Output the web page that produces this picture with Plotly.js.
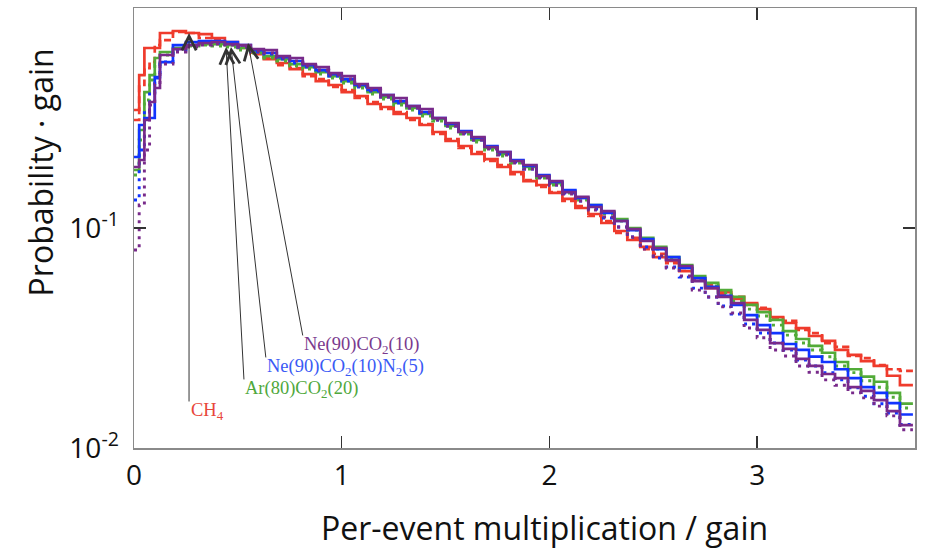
<!DOCTYPE html>
<html><head><meta charset="utf-8">
<script src="https://cdn.plot.ly/plotly-3.0.1.min.js"></script>
<style>html,body{margin:0;padding:0;background:#fff}#chart{width:925px;height:551px}</style>
</head><body><div id="chart"></div>
<script>
// Histogram bin edges (per-event multiplication / gain)
const binEdges = [0,0.025,0.05,0.075,0.1,0.125,0.1875,0.25,0.3125,0.375,0.4375,0.5,0.5625,0.625,0.6875,0.75,0.8125,0.875,0.9375,1,1.0625,1.125,1.1875,1.25,1.3125,1.375,1.4375,1.5,1.5625,1.625,1.6875,1.75,1.8125,1.875,1.9375,2,2.0625,2.125,2.1875,2.25,2.3125,2.375,2.4375,2.5,2.5625,2.625,2.6875,2.75,2.8125,2.875,2.9375,3,3.0625,3.125,3.1875,3.25,3.3125,3.375,3.4375,3.5,3.5625,3.625,3.6875,3.75];

// Probability · gain per bin
const ch4Solid = [0.3438,0.4958,0.6578,0.6578,0.6578,0.7696,0.7860,0.7696,0.7615,0.7304,0.7004,0.6578,0.6308,0.5862,0.5622,0.5279,0.5010,0.4656,0.4467,0.4150,0.3980,0.3661,0.3548,0.3297,0.3163,0.2939,0.2731,0.2486,0.2359,0.2170,0.2058,0.1894,0.1797,0.1635,0.1568,0.1443,0.1355,0.1233,0.1158,0.1054,0.0969,0.0882,0.0820,0.0738,0.0708,0.0637,0.0592,0.0533,0.0511,0.0476,0.0456,0.0428,0.0394,0.0370,0.0351,0.0323,0.0307,0.0279,0.0265,0.0248,0.0236,0.0213,0.0193];
const ch4Dashed = [0.3097,0.4467,0.5335,0.5681,0.6787,0.7152,0.7779,0.7696,0.7304,0.7152,0.6858,0.6716,0.6177,0.5986,0.5505,0.5335,0.4906,0.4754,0.4375,0.4238,0.3898,0.3738,0.3474,0.3367,0.3097,0.2970,0.2675,0.2538,0.2310,0.2215,0.2016,0.1934,0.1759,0.1652,0.1536,0.1457,0.1327,0.1259,0.1134,0.1076,0.0949,0.0901,0.0802,0.0762,0.0693,0.0658,0.0580,0.0551,0.0501,0.0486,0.0447,0.0433,0.0390,0.0378,0.0344,0.0333,0.0300,0.0288,0.0262,0.0256,0.0238,0.0228,0.0224];
const arSolid = [0.1835,0.2789,0.4150,0.4958,0.5924,0.6308,0.6578,0.6787,0.6858,0.6858,0.6787,0.6578,0.6308,0.6049,0.5862,0.5563,0.5391,0.5116,0.4906,0.4656,0.4421,0.4150,0.3939,0.3700,0.3511,0.3297,0.3130,0.2908,0.2731,0.2512,0.2310,0.2170,0.2016,0.1894,0.1723,0.1601,0.1473,0.1369,0.1272,0.1182,0.1098,0.1000,0.0901,0.0820,0.0738,0.0679,0.0605,0.0563,0.0522,0.0486,0.0447,0.0415,0.0382,0.0340,0.0313,0.0291,0.0271,0.0246,0.0228,0.0211,0.0200,0.0178,0.0159];
const arDotted = [0.1741,0.2512,0.3817,0.4705,0.5505,0.6113,0.6509,0.6716,0.6787,0.6716,0.6647,0.6441,0.6243,0.5924,0.5741,0.5448,0.5279,0.5010,0.4805,0.4562,0.4328,0.4064,0.3857,0.3623,0.3438,0.3229,0.3065,0.2848,0.2675,0.2460,0.2262,0.2125,0.1975,0.1854,0.1687,0.1568,0.1443,0.1341,0.1246,0.1158,0.1076,0.0979,0.0882,0.0802,0.0723,0.0665,0.0592,0.0545,0.0507,0.0466,0.0428,0.0398,0.0362,0.0326,0.0300,0.0279,0.0260,0.0236,0.0220,0.0202,0.0189,0.0170,0.0152];
const neN2Solid = [0.2103,0.2939,0.3163,0.3163,0.4855,0.5681,0.6787,0.7004,0.7078,0.7078,0.7004,0.6787,0.6441,0.6243,0.5986,0.5741,0.5505,0.5224,0.5010,0.4754,0.4467,0.4238,0.4022,0.3777,0.3585,0.3367,0.3163,0.2970,0.2760,0.2565,0.2359,0.2215,0.2037,0.1914,0.1741,0.1618,0.1488,0.1369,0.1272,0.1170,0.1076,0.0979,0.0891,0.0802,0.0738,0.0658,0.0592,0.0540,0.0491,0.0447,0.0402,0.0362,0.0333,0.0297,0.0279,0.0260,0.0246,0.0228,0.0208,0.0189,0.0178,0.0160,0.0142];
const neN2Dotted = [0.1341,0.2262,0.3438,0.4150,0.4805,0.5681,0.6441,0.6787,0.6931,0.6931,0.6858,0.6647,0.6308,0.6177,0.5862,0.5622,0.5391,0.5170,0.4906,0.4656,0.4375,0.4194,0.3939,0.3700,0.3511,0.3332,0.3097,0.2908,0.2703,0.2512,0.2310,0.2170,0.1995,0.1854,0.1705,0.1568,0.1443,0.1327,0.1220,0.1110,0.1011,0.0910,0.0820,0.0730,0.0665,0.0598,0.0533,0.0486,0.0442,0.0406,0.0366,0.0333,0.0300,0.0279,0.0251,0.0236,0.0220,0.0204,0.0188,0.0172,0.0159,0.0144,0.0128];
const neSolid = [0.1894,0.2037,0.3097,0.3738,0.4328,0.6113,0.6509,0.6787,0.6931,0.7004,0.6858,0.6787,0.6509,0.6441,0.6049,0.5924,0.5563,0.5391,0.5063,0.4906,0.4514,0.4328,0.4022,0.3898,0.3585,0.3474,0.3163,0.3001,0.2731,0.2592,0.2335,0.2215,0.2016,0.1934,0.1723,0.1635,0.1457,0.1384,0.1246,0.1194,0.1076,0.0989,0.0873,0.0811,0.0715,0.0672,0.0574,0.0533,0.0486,0.0456,0.0382,0.0344,0.0300,0.0282,0.0254,0.0236,0.0217,0.0208,0.0189,0.0182,0.0165,0.0147,0.0127];
const neDotted = [0.0794,0.1272,0.2262,0.3623,0.4514,0.5563,0.6308,0.6647,0.6787,0.6858,0.6787,0.6647,0.6374,0.6243,0.5924,0.5741,0.5448,0.5224,0.4958,0.4754,0.4421,0.4238,0.3939,0.3777,0.3511,0.3367,0.3097,0.2908,0.2675,0.2512,0.2286,0.2147,0.1975,0.1854,0.1687,0.1568,0.1428,0.1327,0.1207,0.1122,0.1011,0.0910,0.0802,0.0746,0.0658,0.0605,0.0522,0.0486,0.0438,0.0411,0.0351,0.0317,0.0279,0.0262,0.0236,0.0221,0.0204,0.0193,0.0178,0.0169,0.0155,0.0140,0.0121];

const xTickVals = [0, 1, 2, 3];
const yTickVals = [0.01, 0.1];
const yTickText = ['10<sup>-2</sup>', '10<sup>-1</sup>'];

const gasLabels = ['CH<sub>4</sub>', 'Ar(80)CO<sub>2</sub>(20)', 'Ne(90)CO<sub>2</sub>(10)N<sub>2</sub>(5)', 'Ne(90)CO<sub>2</sub>(10)'];

const RED = '#ef3b2c', GREEN = '#52ab38', BLUE = '#1034ff', PURPLE = '#782a8a';
const UI_FONT = 'Open Sans, Lato, sans-serif';

function closeStep(v) { return v.concat([v[v.length - 1]]); }
function stepTrace(vals, color, dash, width) {
  return { x: binEdges, y: closeStep(vals), type: 'scatter', mode: 'lines',
    line: { shape: 'hv', color: color, width: width, dash: dash }, hoverinfo: 'skip' };
}

const traces = [
  stepTrace(ch4Solid, RED, 'solid', 2.7),
  stepTrace(ch4Dashed, RED, '7px,4px', 2.7),
  stepTrace(arSolid, GREEN, 'solid', 2.7),
  stepTrace(arDotted, GREEN, '3px,5px', 2.9),
  stepTrace(neN2Solid, BLUE, 'solid', 2.7),
  stepTrace(neN2Dotted, BLUE, '3px,5px', 2.9),
  stepTrace(neSolid, PURPLE, 'solid', 2.7),
  stepTrace(neDotted, PURPLE, '3px,5px', 2.9)
];

const arrowColor = '#333333';
const arrowBase = { xref: 'x', yref: 'y', text: '', showarrow: true, arrowhead: 5, arrowsize: 2.8, arrowwidth: 1, arrowcolor: arrowColor };
const labelFont = (c) => ({ family: 'Liberation Serif, DejaVu Serif, serif', size: 18.5, color: c });
const labelBase = { xref: 'x', yref: 'y', showarrow: false, xanchor: 'left', yanchor: 'middle', borderpad: 0 };

const annotations = [
  Object.assign({}, arrowBase, { x: 0.265, y: -0.1136, ax: 0, ay: 370 }),
  Object.assign({}, arrowBase, { x: 0.443, y: -0.177, ax: 18, ay: 334 }),
  Object.assign({}, arrowBase, { x: 0.467, y: -0.177, ax: 35, ay: 312 }),
  Object.assign({}, arrowBase, { x: 0.549, y: -0.159, ax: 55, ay: 294 }),
  Object.assign({}, labelBase, { x: 0.268, y: -1.836, text: gasLabels[0], font: labelFont('#e8463a') }),
  Object.assign({}, labelBase, { x: 0.528, y: -1.736, text: gasLabels[1], font: labelFont('#4fa83c') }),
  Object.assign({}, labelBase, { x: 0.634, y: -1.636, text: gasLabels[2], font: labelFont('#3a5af5') }),
  Object.assign({}, labelBase, { x: 0.812, y: -1.532, text: gasLabels[3], font: labelFont('#7a3a8e') }),
  { xref: 'paper', yref: 'paper', x: 0.525, y: -0.18, text: 'Per-event multiplication / gain', showarrow: false, xanchor: 'center', yanchor: 'middle', font: { family: UI_FONT, size: 32, color: '#111' } },
  { xref: 'paper', yref: 'paper', x: -0.12, y: 0.627, text: 'Probability · gain', textangle: -90, showarrow: false, xanchor: 'center', yanchor: 'middle', font: { family: UI_FONT, size: 32, color: '#111' } }
];

const layout = {
  width: 925, height: 551,
  margin: { l: 134, r: 10, t: 8, b: 103 },
  paper_bgcolor: '#ffffff', plot_bgcolor: '#ffffff',
  showlegend: false,
  xaxis: {
    range: [0, 3.76], tickvals: xTickVals, ticks: 'inside', ticklen: 12, tickwidth: 1.3, tickcolor: '#333',
    showline: true, mirror: 'ticks', linecolor: '#8a8a8a', linewidth: 1.5,
    showgrid: false, zeroline: false, ticklabelstandoff: 2,
    tickfont: { family: UI_FONT, size: 28, color: '#111' }
  },
  yaxis: {
    type: 'log', range: [-2, 0], tickvals: yTickVals, ticktext: yTickText,
    ticks: 'inside', ticklen: 12, tickwidth: 1.3, tickcolor: '#333',
    showline: true, mirror: 'ticks', linecolor: '#8a8a8a', linewidth: 1.5,
    showgrid: false, zeroline: false, ticklabelstandoff: 8,
    tickfont: { family: UI_FONT, size: 28, color: '#111' }
  },
  annotations: annotations
};

Plotly.newPlot('chart', traces, layout, { displayModeBar: false, staticPlot: true });
</script>
</body></html>
